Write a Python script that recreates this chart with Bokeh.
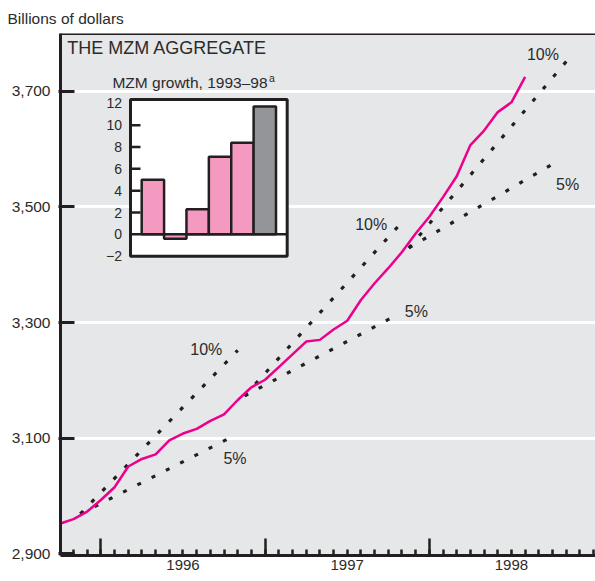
import numpy as np
import pandas as pd
from bokeh.plotting import figure
from bokeh.models import FixedTicker, LinearAxis, Range1d, NumeralTickFormatter, Span
from bokeh.core.properties import value
from bokeh.embed import file_html
from bokeh.resources import INLINE

FONT = "Liberation Sans"
INK = "#231f20"
TXT = "#2b2b2b"
PINK_LINE = "#ec008c"
BG = "#e6e7e8"

# ---------------- data ----------------
mzm_months = ["1995-10", "1995-11", "1995-12",
              "1996-01", "1996-02", "1996-03", "1996-04", "1996-05", "1996-06",
              "1996-07", "1996-08", "1996-09", "1996-10", "1996-11", "1996-12",
              "1997-01", "1997-02", "1997-03", "1997-04", "1997-05", "1997-06",
              "1997-07", "1997-08", "1997-09", "1997-10", "1997-11", "1997-12",
              "1998-01", "1998-02", "1998-03", "1998-04", "1998-05", "1998-06",
              "1998-07", "1998-08"]
mzm_values = [2952, 2960, 2973,
              2993, 3015, 3051, 3064, 3072, 3096,
              3108, 3116, 3130, 3141, 3166, 3188,
              3201, 3223, 3245, 3267, 3270, 3288,
              3303, 3339, 3368, 3394, 3422, 3454,
              3483, 3517, 3553, 3607, 3632, 3664,
              3681, 3725]

year_labels = ["1996", "1997", "1998"]
y_ticks = [2900, 3100, 3300, 3500, 3700]
y_grid = [3100, 3300, 3500, 3700]

# growth cones (start / end in months from Jan 1996, billions of dollars)
cone_rate = ["10%", "5%", "10%", "5%", "10%", "5%"]
cone_start_month = [-1.5, -1.5, 10.5, 10.5, 22.5, 22.5]
cone_start_value = [2969, 2969, 3173, 3173, 3429, 3429]
cone_end_month = [10.0, 9.3, 21.9, 21.3, 34.2, 33.5]
cone_end_value = [3252, 3099, 3471, 3309, 3757, 3581]
cone_label_month = [7.7, 9.8, 19.75, 23.05, 32.3, 34.1]
cone_label_value = [3253, 3065, 3470, 3319, 3764, 3539]

# inset: MZM growth, 1993-98
growth_years = ["1993", "1994", "1995", "1996", "1997", "1998"]
growth_values = [5.0, -0.4, 2.3, 7.1, 8.4, 11.7]
growth_colors = ["#f49ac1", "#f49ac1", "#f49ac1", "#f49ac1", "#f49ac1", "#939598"]
inset_ticks = [-2, 0, 2, 4, 6, 8, 10, 12]
inset_tick_labels = ["\u22122", "0", "2", "4", "6", "8", "10", "12"]
inset_inner_ticks = [2, 4, 6, 8, 10]
inset_ymin, inset_ymax = -2, 12.35

# ---------------- layout constants (pixels) ----------------
W, H = 595, 581
BL, BR, BT, BB = 60, 0, 33, 26
frame_w = W - BL - BR
frame_h = H - BT - BB
# inset box position inside the frame (pixels from frame left / top)
box_l, box_r, box_t, box_b = 70, 226.7, 66, 222.7

x_start, x_end = -2.95, 36.14
y_start, y_end = 2897, 3800

month_idx = [(int(s[:4]) - 1996) * 12 + int(s[5:]) - 1 for s in mzm_months]

p = figure(width=W, height=H, output_backend="svg", toolbar_location=None,
           x_range=Range1d(x_start, x_end), y_range=Range1d(y_start, y_end),
           min_border_left=BL, min_border_right=BR, min_border_top=BT,
           min_border_bottom=BB, tools="")
p.background_fill_color = BG
p.border_fill_color = "white"
p.outline_line_color = None

# inset ranges derived from the box geometry
n_slots = len(growth_values) + 1
ipx = (box_r - box_l) / n_slots
ix0 = 0 - box_l / ipx
ix1 = n_slots + (frame_w - box_r) / ipx
ipy = (box_b - box_t) / (inset_ymax - inset_ymin)
iy0 = inset_ymin - (frame_h - box_b) / ipy
iy1 = inset_ymax + box_t / ipy
p.extra_x_ranges = {"ix": Range1d(ix0, ix1)}
p.extra_y_ranges = {"iy": Range1d(iy0, iy1)}

# title (y-axis unit)
p.title.text = "Billions of dollars"
p.title.align = "left"
p.title.offset = -53
p.title.text_font = FONT
p.title.text_font_size = "15.5px"
p.title.text_font_style = "normal"
p.title.text_color = TXT
p.title.standoff = 13

# y axis
yax = p.yaxis[0]
yax.ticker = FixedTicker(ticks=y_ticks)
yax.formatter = NumeralTickFormatter(format="0,0")
yax.axis_line_width = 3
yax.axis_line_color = INK
yax.major_tick_in = 14
yax.major_tick_out = 2
yax.major_tick_line_width = 3
yax.major_tick_line_color = INK
yax.minor_tick_line_color = None
yax.major_label_text_font = FONT
yax.major_label_text_font_size = "15.5px"
yax.major_label_text_color = TXT
yax.major_label_standoff = 8

p.ygrid.ticker = FixedTicker(ticks=y_grid)
p.ygrid.grid_line_color = "white"
p.ygrid.grid_line_width = 3
p.xgrid.grid_line_color = None

# x axis: ticks only
xax = p.xaxis[0]
xax.ticker = FixedTicker(ticks=[0, 12, 24], minor_ticks=list(range(-3, 37)))
xax.axis_line_width = 3
xax.axis_line_color = INK
xax.major_tick_in = 17
xax.major_tick_out = 0
xax.major_tick_line_width = 2.5
xax.major_tick_line_color = INK
xax.minor_tick_in = 6
xax.minor_tick_out = 0
xax.minor_tick_line_width = 2.5
xax.minor_tick_line_color = INK
xax.major_label_overrides = {0: "", 12: "", 24: ""}
xax.major_label_text_font_size = "1px"
xax.major_label_standoff = 0

# x axis: year labels centred on each year
lab = LinearAxis(ticker=FixedTicker(ticks=[6, 18, 30]),
                 major_label_overrides={6: year_labels[0], 18: year_labels[1], 30: year_labels[2]})
lab.axis_line_color = None
lab.major_tick_line_color = None
lab.minor_tick_line_color = None
lab.major_label_text_font = FONT
lab.major_label_text_font_size = "15px"
lab.major_label_text_color = TXT
lab.major_label_standoff = -2
p.add_layout(lab, "below")

# top border
p.add_layout(Span(location=y_end, dimension="width", line_color=INK, line_width=3))

# growth cones
p.segment(x0=cone_start_month, y0=cone_start_value, x1=cone_end_month, y1=cone_end_value,
          line_color=INK, line_width=3.2, line_dash="4 12")
p.text(x=cone_label_month, y=cone_label_value, text=cone_rate,
       text_font=value(FONT), text_font_size="16px", text_color=TXT,
       text_align="center", text_baseline="middle")

# MZM line
p.line(x=month_idx, y=mzm_values, line_color=PINK_LINE, line_width=2.5)

# heading
p.text(x=[-2.46], y=[3775], text=["THE MZM AGGREGATE"],
       text_font=value(FONT), text_font_size="18px", text_color=TXT,
       text_align="left", text_baseline="middle")

# ---- inset ----
bar_x = [i + 1 for i in range(len(growth_values))]
p.quad(left=[0], right=[n_slots], bottom=[inset_ymin], top=[inset_ymax],
       fill_color="white", line_color=INK, line_width=3,
       x_range_name="ix", y_range_name="iy")
p.segment(x0=[0] * len(inset_inner_ticks), x1=[10 / ipx] * len(inset_inner_ticks),
          y0=inset_inner_ticks, y1=inset_inner_ticks, line_color=INK, line_width=2.5,
          x_range_name="ix", y_range_name="iy")
p.segment(x0=[0], x1=[n_slots], y0=[0], y1=[0], line_color=INK, line_width=2.5,
          x_range_name="ix", y_range_name="iy")
p.vbar(x=bar_x, width=1, top=growth_values, bottom=0, fill_color=growth_colors,
       line_color=INK, line_width=2.5, x_range_name="ix", y_range_name="iy")
p.text(x=[-8.5 / ipx] * len(inset_ticks), y=inset_ticks, text=inset_tick_labels,
       text_font=value(FONT), text_font_size="14px", text_color=TXT,
       text_align="right", text_baseline="middle", x_range_name="ix", y_range_name="iy")
p.text(x=[137 / ipx], y=[inset_ymax + 17.3 / ipy], text=["MZM growth, 1993\u201398"],
       text_font=value(FONT), text_font_size="15.5px", text_color=TXT,
       text_align="right", text_baseline="middle", x_range_name="ix", y_range_name="iy")
p.text(x=[138.5 / ipx], y=[inset_ymax + 22 / ipy], text=["a"],
       text_font=value(FONT), text_font_size="10.5px", text_color=TXT,
       text_align="left", text_baseline="middle", x_range_name="ix", y_range_name="iy")

open("out.html", "w").write(file_html(p, INLINE))
